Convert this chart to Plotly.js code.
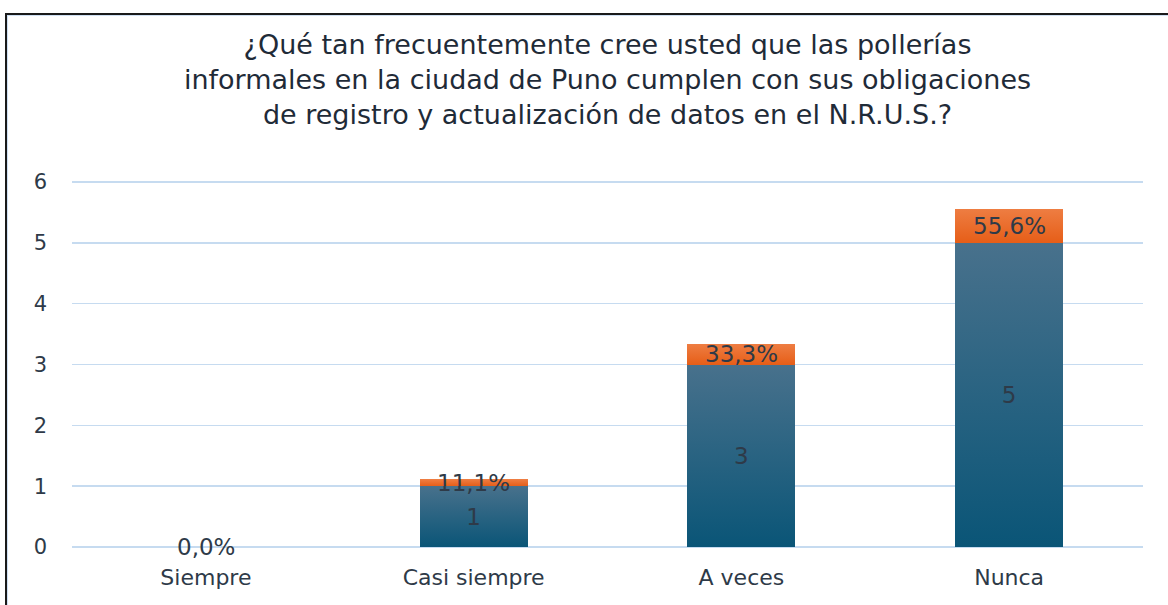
<!DOCTYPE html>
<html>
<head>
<meta charset="utf-8">
<script src="https://cdn.plot.ly/plotly-3.0.1.min.js"></script>
<style>
  html, body { margin: 0; padding: 0; background: #ffffff; }
  #chart { width: 1168px; height: 605px; }
  #frame { position: absolute; left: 5px; top: 13px; width: 1163px; height: 592px;
           border-top: 2px solid #1a1a1a; border-left: 2px solid #1a1a1a; pointer-events: none; box-sizing: border-box; }
  #frame2 { position: absolute; left: 7px; top: 15px; width: 1161px; height: 590px;
           border-top: 1px solid #cfe0f3; border-left: 1px solid #cfe0f3; pointer-events: none; box-sizing: border-box; }
</style>
</head>
<body>
<div id="chart"></div>
<div id="frame"></div>
<div id="frame2"></div>
<script>
const categories = ["Siempre", "Casi siempre", "A veces", "Nunca"];
const counts = [0, 1, 3, 5];
const percents = [0.0, 11.1, 33.3, 55.6];
const yTicks = [0, 1, 2, 3, 4, 5, 6];

const pctFrac = percents.map(p => p / 100);
const pctLabels = percents.map(p => p.toFixed(1).replace(".", ",") + "%");
const countLabels = counts.map(c => c > 0 ? String(c) : "");

const labelFont = { family: "DejaVu Sans, Verdana, sans-serif", size: 23, color: "#2e3a48" };
const xTickFont = { family: "DejaVu Sans, Verdana, sans-serif", size: 22, color: "#2e3a48" };
const yTickFont = { family: "DejaVu Sans, Verdana, sans-serif", size: 21, color: "#2e3a48" };

const traceCount = {
  type: "bar", x: categories, y: counts,
  marker: { color: "#1d6284", line: { width: 0 } },
  text: countLabels, textposition: "inside", insidetextanchor: "middle",
  textfont: labelFont, hoverinfo: "skip", cliponaxis: false
};
const tracePct = {
  type: "bar", x: categories, y: pctFrac,
  marker: { color: "#eb6a27", line: { width: 0 } },
  hoverinfo: "skip"
};

const annotations = categories.map((c, i) => ({
  x: c, y: counts[i] + pctFrac[i] / 2, xref: "x", yref: "y",
  text: pctLabels[i], showarrow: false, font: labelFont,
  xanchor: "center", yanchor: "middle"
}));

const layout = {
  width: 1168, height: 605,
  margin: { l: 72, r: 25, t: 179, b: 58 },
  paper_bgcolor: "#ffffff", plot_bgcolor: "#ffffff",
  barmode: "stack", bargap: 0.597,
  showlegend: false,
  title: {
    text: "¿Qué tan frecuentemente cree usted que las pollerías<br>informales en la ciudad de Puno cumplen con sus obligaciones<br>de registro y actualización de datos en el N.R.U.S.?",
    font: { family: "DejaVu Sans, Verdana, sans-serif", size: 27, color: "#1f2b38" },
    x: 0.5, xanchor: "center", xref: "paper",
    y: 1 - 54 / 605, yanchor: "top", yref: "container"
  },
  xaxis: {
    type: "category", showgrid: false, zeroline: false, showline: false,
    ticks: "", tickfont: xTickFont,
    ticklabelstandoff: 15
  },
  yaxis: {
    range: [0, 6.05], tickvals: yTicks, ticktext: yTicks.map(String),
    showgrid: true, gridcolor: "#c6dbf0", gridwidth: 1.6,
    zeroline: true, zerolinecolor: "#c6dbf0", zerolinewidth: 1.6,
    showline: false, ticks: "",
    tickfont: yTickFont,
    ticklabelstandoff: 24
  },
  annotations: annotations
};

Plotly.newPlot("chart", [traceCount, tracePct], layout, { staticPlot: true, displayModeBar: false }).then(function (gd) {
  const svg = gd.querySelector("svg.main-svg");
  const ns = "http://www.w3.org/2000/svg";
  const defs = document.createElementNS(ns, "defs");
  function grad(id, top, bottom) {
    const g = document.createElementNS(ns, "linearGradient");
    g.setAttribute("id", id); g.setAttribute("x1", "0"); g.setAttribute("y1", "0");
    g.setAttribute("x2", "0"); g.setAttribute("y2", "1");
    [[0, top], [1, bottom]].forEach(function (s) {
      const st = document.createElementNS(ns, "stop");
      st.setAttribute("offset", s[0]); st.setAttribute("stop-color", s[1]);
      g.appendChild(st);
    });
    defs.appendChild(g);
  }
  grad("gBlue", "#48718c", "#0a5577");
  grad("gOrange", "#ee7d42", "#e65e18");
  svg.insertBefore(defs, svg.firstChild);
  const traces = gd.querySelectorAll(".barlayer .trace");
  traces.forEach(function (t, i) {
    t.querySelectorAll("path").forEach(function (p) {
      p.style.fill = i === 0 ? "url(#gBlue)" : "url(#gOrange)";
    });
  });
});
</script>
</body>
</html>
